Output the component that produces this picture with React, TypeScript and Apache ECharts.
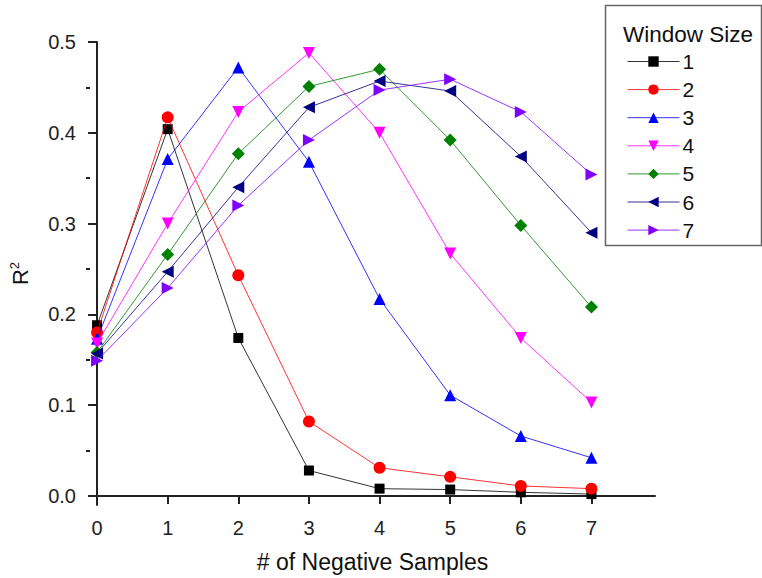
import React, { useEffect, useRef } from "react";
import * as echarts from "echarts";

const xValues = [0, 1, 2, 3, 4, 5, 6, 7];
const seriesNames = ["1", "2", "3", "4", "5", "6", "7"];
const w1 = [0.188, 0.404, 0.174, 0.028, 0.008, 0.007, 0.004, 0.002];
const w2 = [0.18, 0.417, 0.243, 0.082, 0.031, 0.021, 0.011, 0.008];
const w3 = [0.173, 0.371, 0.472, 0.368, 0.217, 0.111, 0.066, 0.042];
const w4 = [0.168, 0.3, 0.423, 0.488, 0.4, 0.267, 0.174, 0.103];
const w5 = [0.158, 0.266, 0.377, 0.451, 0.47, 0.392, 0.298, 0.208];
const w6 = [0.157, 0.247, 0.34, 0.428, 0.457, 0.446, 0.374, 0.29];
const w7 = [0.149, 0.229, 0.32, 0.392, 0.447, 0.459, 0.423, 0.354];
const yTickValues = [0, 0.1, 0.2, 0.3, 0.4, 0.5];
const yMinorValues = [0.05, 0.15, 0.25, 0.35, 0.45];

const allData = [w1, w2, w3, w4, w5, w6, w7];
const colors = ["#000000", "#ff0000", "#0000ff", "#ff00ff", "#008000", "#000080", "#8000ff"];
const symbols = ["rect", "circle", "triangle", "triangle", "diamond", "triangle", "triangle"];
const rotations = [0, 0, 0, 180, 0, 90, -90];
const sizes = [10, 12, 12, 12, 13, 12, 12];

const FONT = "Liberation Sans, Arial, sans-serif";

export default function App() {
  const ref = useRef<HTMLDivElement>(null);
  useEffect(() => {
    if (!ref.current) return;
    const chart = echarts.init(ref.current, undefined, { renderer: "svg" });
    const series = allData.map((d, i) => ({
      name: seriesNames[i],
      type: "line",
      data: d.map((v, j) => [xValues[j], v]),
      symbol: symbols[i],
      symbolRotate: rotations[i],
      symbolSize: sizes[i],
      showAllSymbol: true,
      lineStyle: { color: colors[i], width: 1, opacity: 0.8 },
      itemStyle: { color: colors[i] },
      z: 2 + i,
    }));
    chart.setOption({
      animation: false,
      textStyle: { fontFamily: FONT },
      grid: { left: 86, right: 107, top: 42, bottom: 73, containLabel: false },
      xAxis: {
        type: "value",
        min: -0.1,
        max: 7.9,
        name: "# of Negative Samples",
        nameLocation: "middle",
        nameGap: 45,
        nameTextStyle: { fontSize: 23, color: "#111", fontFamily: FONT },
        axisLine: { show: true, lineStyle: { color: "#222", width: 2 } },
        axisTick: { show: true, customValues: xValues, length: 8, lineStyle: { color: "#222", width: 2 } },
        axisLabel: { customValues: xValues, fontSize: 20, color: "#222", margin: 13, fontFamily: FONT },
        splitLine: { show: false },
      },
      yAxis: [
        {
          type: "value",
          min: -0.01,
          max: 0.5,
          name: "{r|R}{s|2}",
          nameLocation: "middle",
          nameGap: 58,
          nameRotate: 90,
          nameTextStyle: {
            fontFamily: FONT,
            rich: {
              r: { fontSize: 22, color: "#111", lineHeight: 24, fontFamily: FONT },
              s: { fontSize: 13, color: "#111", verticalAlign: "top", lineHeight: 24, fontFamily: FONT },
            },
          },
          axisLine: { show: true, lineStyle: { color: "#222", width: 2 } },
          axisTick: { show: true, customValues: yTickValues, length: 9, lineStyle: { color: "#222", width: 2 } },
          axisLabel: {
            customValues: yTickValues,
            fontSize: 20,
            color: "#222",
            margin: 14,
            fontFamily: FONT,
            formatter: (v: number) => v.toFixed(1),
          },
          splitLine: { show: false },
        },
        {
          type: "value",
          min: -0.01,
          max: 0.5,
          position: "left",
          axisLine: { show: false },
          axisTick: { show: true, customValues: yMinorValues, length: 4, lineStyle: { color: "#222", width: 2 } },
          axisLabel: { show: false },
          splitLine: { show: false },
        },
      ],
      legend: {
        orient: "vertical",
        left: 622,
        top: 46,
        itemWidth: 52,
        itemHeight: 13,
        itemGap: 7.1,
        data: seriesNames,
        lineStyle: { width: 1 },
        textStyle: { fontSize: 21, color: "#111", fontFamily: FONT, padding: [0, 0, 0, -2] },
      },
      graphic: [
        {
          type: "rect",
          shape: { x: 605.5, y: 5.5, width: 156, height: 240 },
          style: { fill: "#fff", stroke: "#666", lineWidth: 1.5 },
          z: 0,
          zlevel: 0,
        },
        {
          type: "text",
          x: 623,
          y: 34,
          style: {
            text: "Window Size",
            fontSize: 22.5,
            fontFamily: FONT,
            fill: "#111",
            verticalAlign: "middle",
          },
        },
      ],
      series,
    });
    return () => chart.dispose();
  }, []);
  return <div ref={ref} style={{ width: 762, height: 578, position: "absolute", left: 0, top: 0 }} />;
}
